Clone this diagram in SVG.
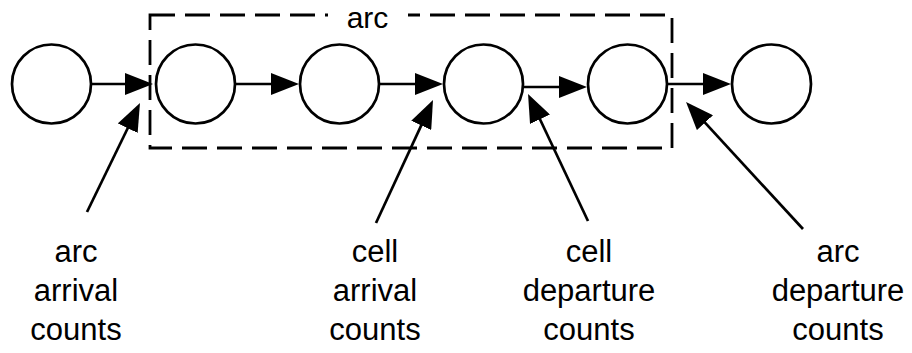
<svg xmlns="http://www.w3.org/2000/svg" width="912" height="353" viewBox="0 0 912 353">
  <style>
    .node { fill: #ffffff; stroke: #000000; stroke-width: 2.7; }
    .edge { fill: none; stroke: #000000; stroke-width: 2.7; marker-end: url(#head); }
    .box { fill: none; stroke: #000000; stroke-width: 2.8; stroke-dasharray: 25 10; }
    .lbl { font-family: "Liberation Sans", Arial, sans-serif; font-size: 31px; fill: #000000; text-anchor: middle; }
  </style>
  <defs>
    <marker id="head" viewBox="0 0 28 22" refX="18" refY="11" markerWidth="28" markerHeight="22" markerUnits="userSpaceOnUse" orient="auto">
      <path d="M0,0 L28,11 L0,22 Z" fill="#000000"/>
    </marker>
  </defs>

  <g id="arc-box">
    <rect class="box" x="150" y="15" width="522" height="133"/>
    <rect x="328" y="8" width="80" height="14" fill="#ffffff"/>
    <text class="lbl" x="367.5" y="27.5" style="font-size:30px">arc</text>
  </g>

  <g id="n1"><circle class="node" cx="51.5" cy="84" r="39.5"/></g>
  <g id="n2"><circle class="node" cx="195.5" cy="84" r="39.5"/></g>
  <g id="n3"><circle class="node" cx="339.5" cy="84" r="39.5"/></g>
  <g id="n4"><circle class="node" cx="483.5" cy="84" r="39.5"/></g>
  <g id="n5"><circle class="node" cx="627.5" cy="84" r="39.5"/></g>
  <g id="n6"><circle class="node" cx="771.5" cy="84" r="39.5"/></g>

  <g id="connectors">
    <line class="edge" x1="91" y1="84" x2="143" y2="84"/>
    <line class="edge" x1="235" y1="84" x2="289" y2="84"/>
    <line class="edge" x1="379" y1="84" x2="433" y2="84"/>
    <line class="edge" x1="523" y1="87" x2="577" y2="87"/>
    <line class="edge" x1="667" y1="84" x2="721" y2="84"/>

    <line class="edge" x1="87" y1="212" x2="135.6" y2="112"/>
    <line class="edge" x1="376" y1="223" x2="428.8" y2="109.1"/>
    <line class="edge" x1="588" y1="221" x2="532.3" y2="103"/>
    <line class="edge" x1="803" y1="229" x2="692.8" y2="109.4"/>
  </g>

  <g id="label-arc-arrival">
    <text class="lbl" x="76" y="262">arc</text>
    <text class="lbl" x="76" y="301">arrival</text>
    <text class="lbl" x="76" y="340">counts</text>
  </g>
  <g id="label-cell-arrival">
    <text class="lbl" x="375" y="262">cell</text>
    <text class="lbl" x="375" y="301">arrival</text>
    <text class="lbl" x="375" y="340">counts</text>
  </g>
  <g id="label-cell-departure">
    <text class="lbl" x="589" y="262">cell</text>
    <text class="lbl" x="589" y="301">departure</text>
    <text class="lbl" x="589" y="340">counts</text>
  </g>
  <g id="label-arc-departure">
    <text class="lbl" x="838" y="262">arc</text>
    <text class="lbl" x="838" y="301">departure</text>
    <text class="lbl" x="838" y="340">counts</text>
  </g>
</svg>
